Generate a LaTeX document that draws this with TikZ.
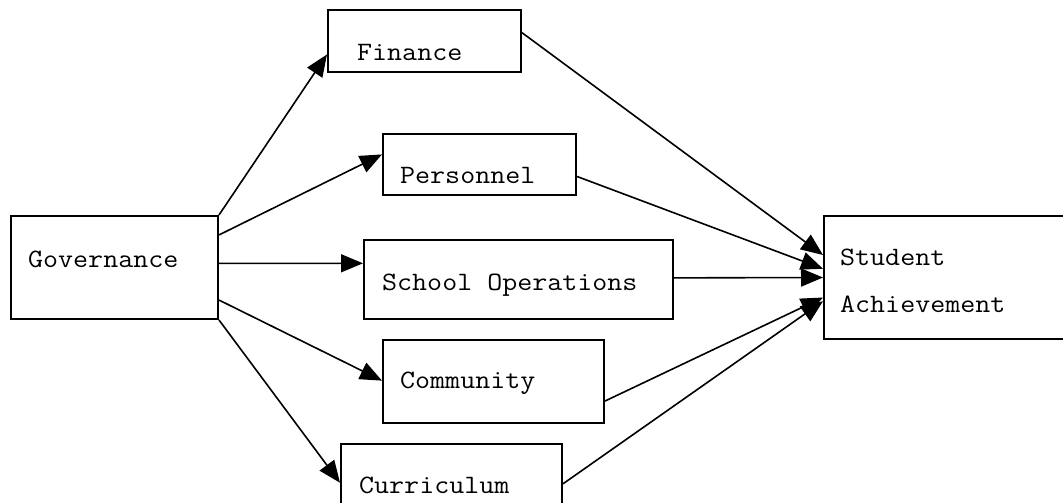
\documentclass[tikz,border=0pt]{standalone}
\usepackage{fontspec}
\setmonofont{Latin Modern Mono}[FakeStretch=1.1]
\usetikzlibrary{arrows.meta,calc}
\begin{document}
\begin{tikzpicture}[x=1pt,y=-1pt,
  boxnode/.style={draw=black,line width=2pt,rectangle,inner sep=0pt,anchor=north west},
  label/.style={anchor=base west,inner sep=0pt,font=\fontsize{26.5pt}{30pt}\selectfont\ttfamily},
  conn/.style={line width=1.6pt,black},
  arr/.style={conn,-{Triangle[length=22pt,width=18pt]}}]
\useasboundingbox (0,0) rectangle (1063,503);
\fill[white] (0,0) rectangle (1063,503);
% boxes
\node[boxnode,minimum width=207pt,minimum height=103pt] (gov) at (10,215) {};
\node[boxnode,minimum width=193pt,minimum height=62pt] (fin) at (327,9) {};
\node[boxnode,minimum width=193pt,minimum height=61pt] (per) at (382,133) {};
\node[boxnode,minimum width=309pt,minimum height=79pt] (ops) at (363,239) {};
\node[boxnode,minimum width=221pt,minimum height=83pt] (com) at (382,339) {};
\node[boxnode,minimum width=221pt,minimum height=100pt] (cur) at (340,443) {};
\node[boxnode,minimum width=280pt,minimum height=123pt] (stu) at (823,215) {};
% texts
\node[label] (tgov) at (28,267) {Governance};
\node[label] (tfin) at (357,60) {Finance};
\node[label] (tper) at (400,183) {Personnel};
\node[label] (tops) at (382,290) {School Operations};
\node[label] (tcom) at (400,388) {Community};
\node[label] (tcur) at (359,493) {Curriculum};
\node[label] (tstu1) at (840,265) {Student};
\node[label] (tstu2) at (840,312) {Achievement};
% arrows from Governance
\draw[arr] (gov.north east) -- ($(fin.north west)!0.71!(fin.south west)$);
\draw[arr] ($(gov.north east)!0.19!(gov.south east)$) -- ($(per.north west)!0.34!(per.south west)$);
\draw[arr] ($(gov.north east)!0.46!(gov.south east)$) -- ($(ops.north west)!0.30!(ops.south west)$);
\draw[arr] ($(gov.north east)!0.81!(gov.south east)$) -- ($(com.north west)!0.49!(com.south west)$);
\draw[arr] (gov.south east) -- ($(cur.north west)!0.39!(cur.south west)$);
% arrows to Student Achievement
\draw[arr] ($(fin.north east)!0.37!(fin.south east)$) -- ($(stu.north west)!0.32!(stu.south west)$);
\draw[arr] ($(per.north east)!0.69!(per.south east)$) -- ($(stu.north west)!0.43!(stu.south west)$);
\draw[arr] ($(ops.north east)!0.48!(ops.south east)$) -- ($(stu.north west)!0.50!(stu.south west)$);
\draw[arr] ($(com.north east)!0.73!(com.south east)$) -- ($(stu.north west)!0.66!(stu.south west)$);
\draw[arr] ($(cur.north east)!0.40!(cur.south east)$) -- ($(stu.north west)!0.69!(stu.south west)$);
\end{tikzpicture}
\end{document}
